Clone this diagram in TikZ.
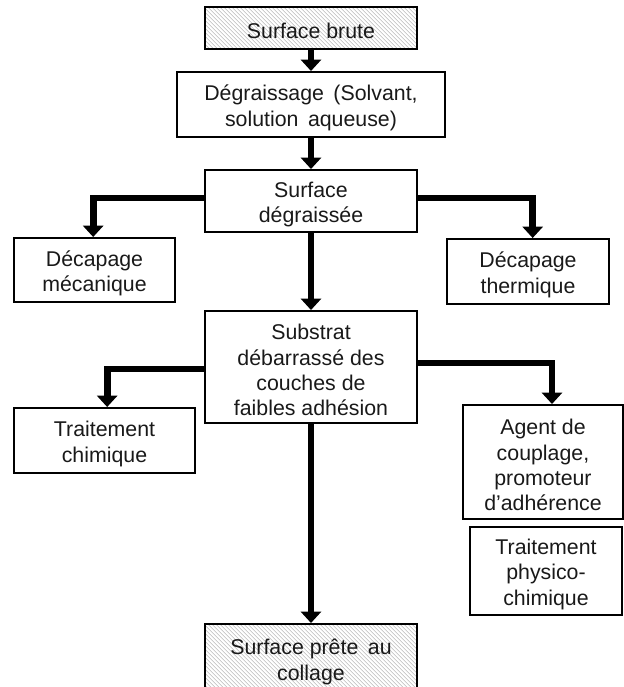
\documentclass[tikz,border=0pt]{standalone}
\usepackage{fontspec}
\setmainfont{Liberation Sans}
\usetikzlibrary{arrows.meta}
\tikzset{
  frame/.style={draw=black, line width=1.5pt, inner sep=0pt},
  txt/.style={align=center, inner sep=0pt, text=black!90,
    font=\fontsize{16}{19}\selectfont},
  hatched/.style={frame, path picture={
    \foreach \i in {-70,-67,...,170}{
      \draw[gray!55, line width=0.4pt]
        ([xshift=\i pt]path picture bounding box.north west) -- ++(70pt,-70pt);
    }}},
  conn/.style={line width=5pt, -{Triangle[length=8.5pt,width=15pt]}}
}
\newcommand{\mybox}[7][frame]{%
  \node[#1, minimum width=#5, minimum height=#6] (#2) at (#3,#4) {};
  \node[txt] (#2-t) at ([yshift=-2.5pt]#2.center) {#7};}
\begin{document}
\begin{tikzpicture}[x=0.75pt,y=-0.75pt]
\clip (0,0) rectangle (624,687);
\mybox[hatched]{brute}{311}{28}{159pt}{31.5pt}{Surface brute}
\mybox{degr}{311}{104.5}{201pt}{48.75pt}{Dégraissage \,(Solvant,\\ solution \,aqueuse)}
\mybox{degrassee}{311}{201}{159pt}{46.5pt}{Surface\\ dégraissée}
\mybox{mecanique}{94.5}{270}{120.75pt}{48pt}{Décapage\\ mécanique}
\mybox{thermique}{528}{271.5}{121.5pt}{48.75pt}{Décapage\\ thermique}
\mybox{substrat}{311}{367}{159pt}{84pt}{Substrat\\ débarrassé des\\ couches de\\ faibles adhésion}
\mybox{chimique}{104.5}{440.5}{135.75pt}{48.75pt}{Traitement\\ chimique}
\mybox{agent}{543}{462}{120pt}{85.5pt}{Agent de\\ couplage,\\ promoteur\\ d’adhérence}
\mybox{physico}{546}{571}{114pt}{66pt}{Traitement\\ physico-\\ chimique}
\mybox[hatched]{prete}{311}{658.5}{159pt}{51.75pt}{Surface prête \,au\\ collage}

\coordinate (ya) at (0,198);
\coordinate (yb) at (0,369);
\coordinate (yc) at (0,363);

\draw[conn] (brute.south) -- (degr.north);
\draw[conn] (degr.south) -- (degrassee.north);
\draw[conn] (degrassee.west |- ya) -| ([xshift=-1pt]mecanique.north);
\draw[conn] (degrassee.east |- ya) -| ([xshift=3.5pt]thermique.north);
\draw[conn] (degrassee.south) -- (substrat.north);
\draw[conn] (substrat.west |- yb) -| ([xshift=2pt]chimique.north);
\draw[conn] (substrat.east |- yc) -| ([xshift=6.75pt]agent.north);
\draw[conn] (substrat.south) -- (prete.north);
\end{tikzpicture}
\end{document}
